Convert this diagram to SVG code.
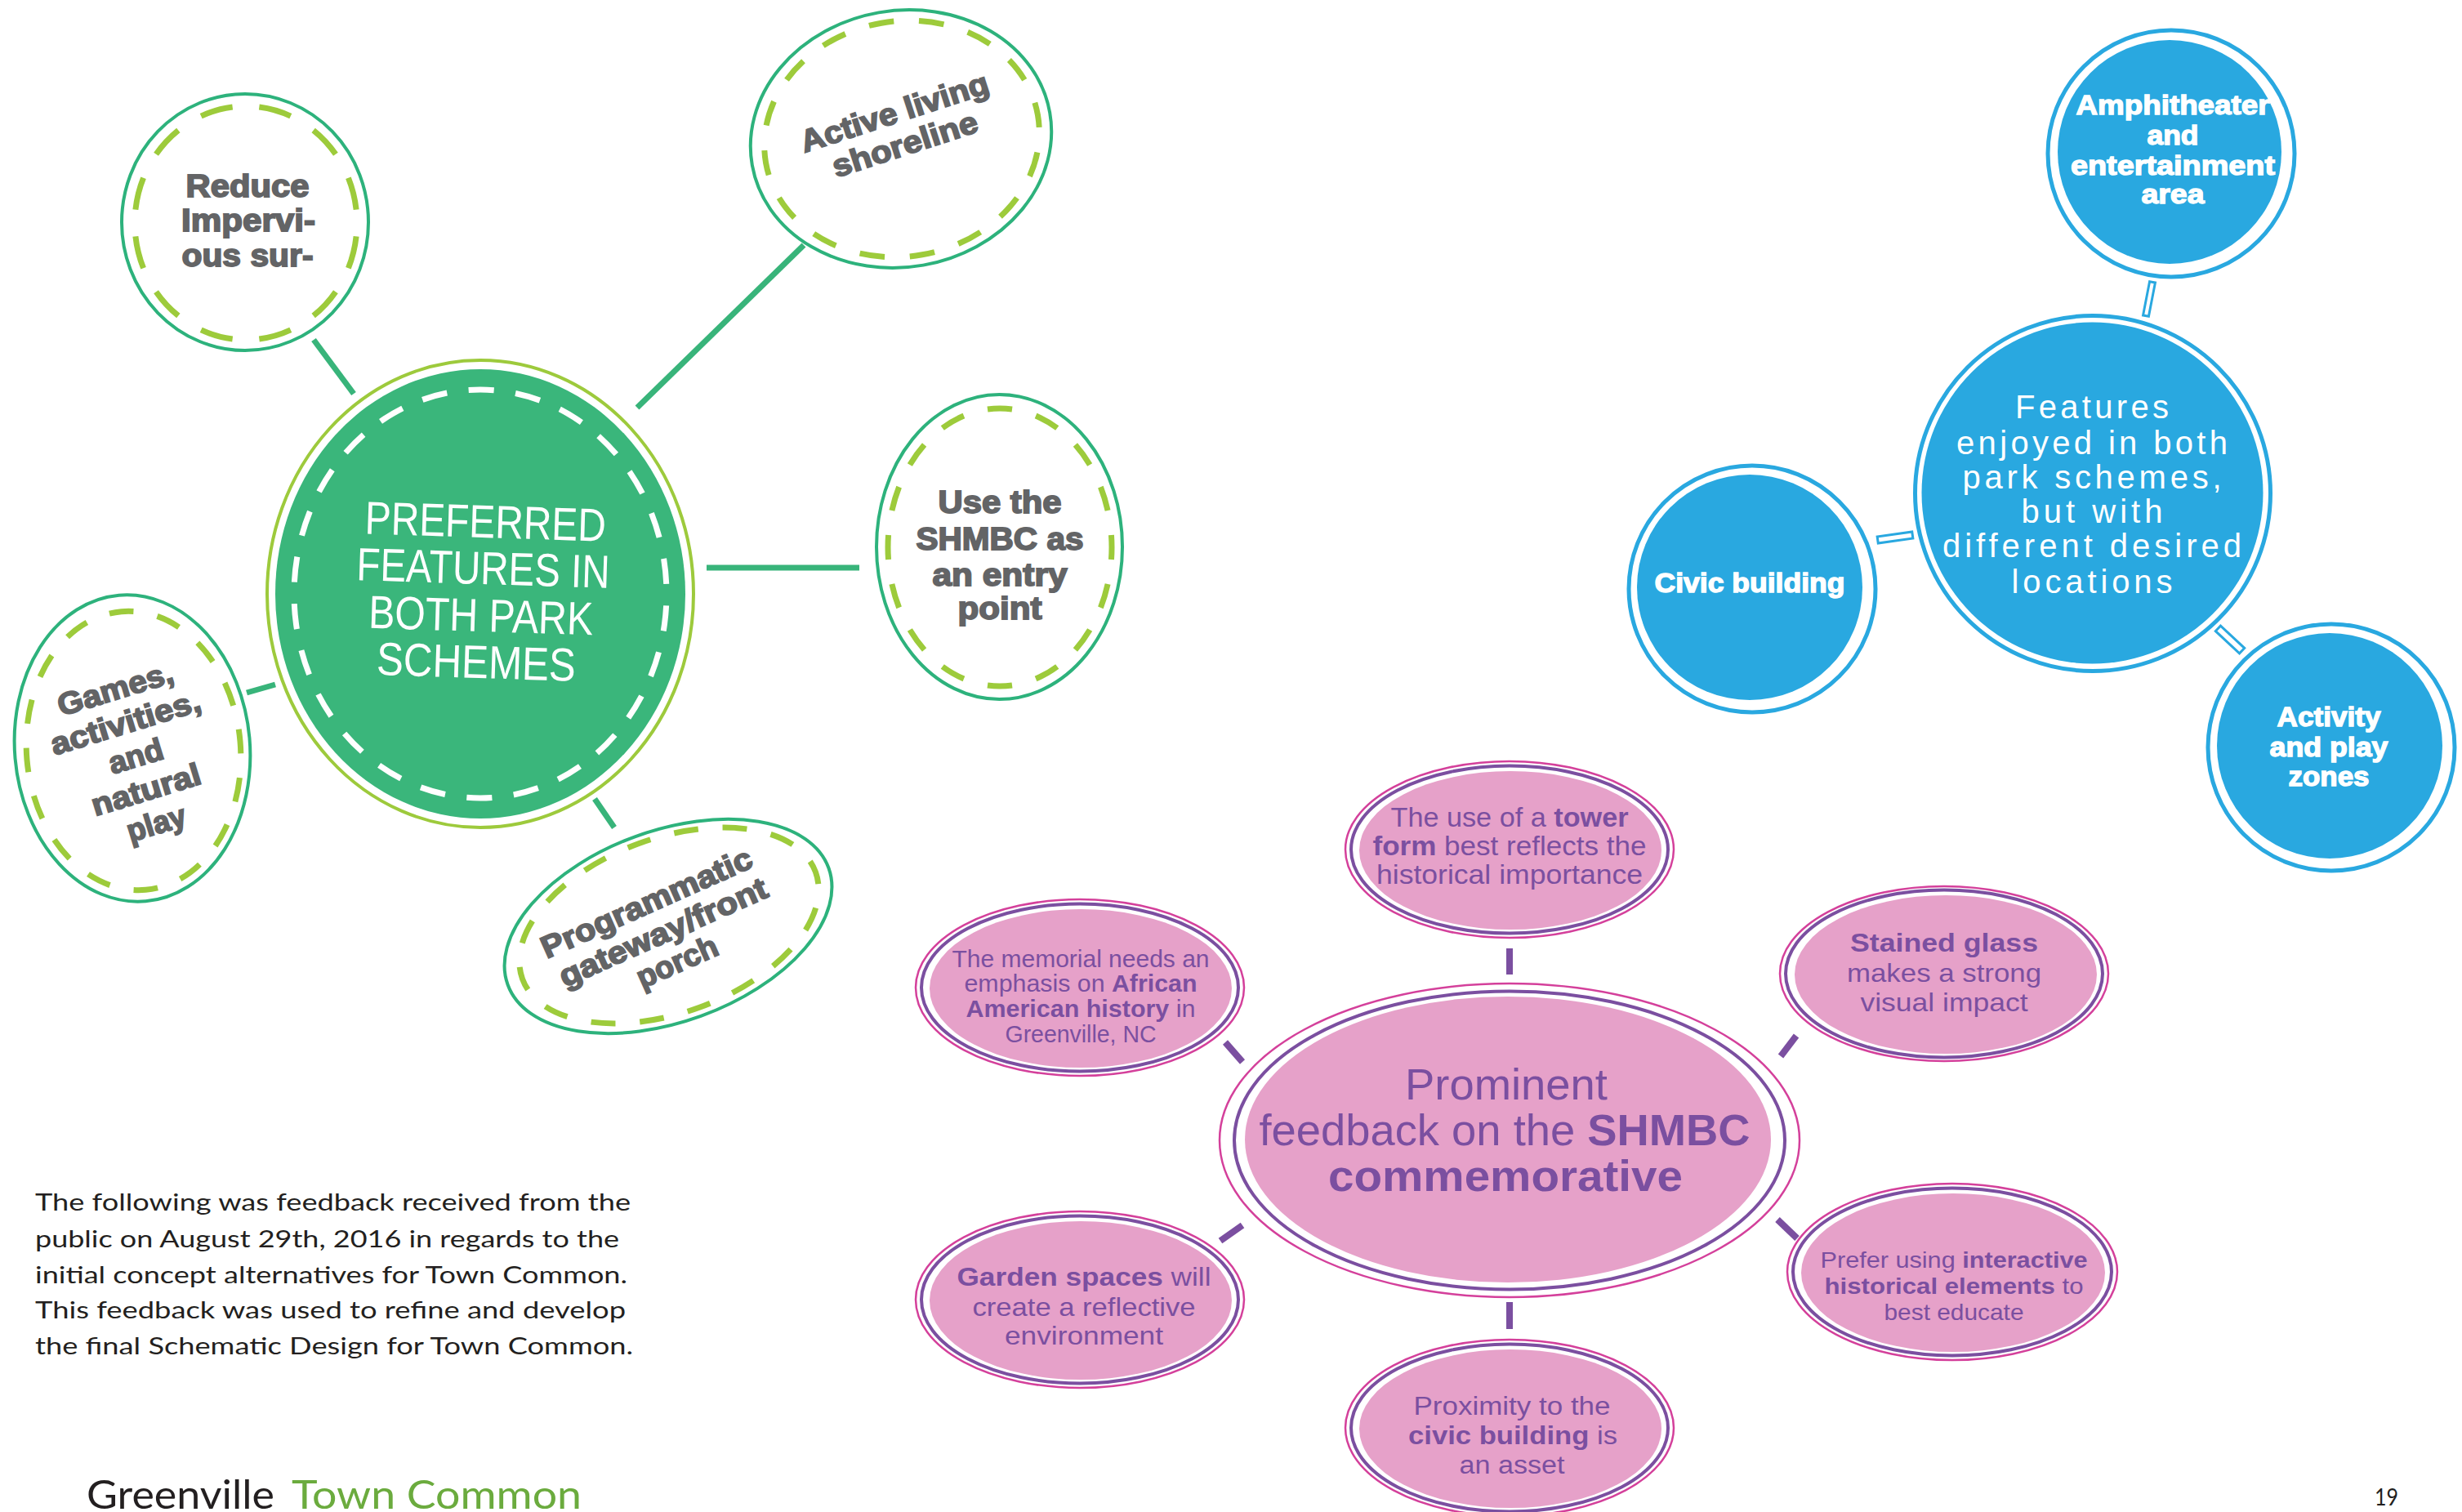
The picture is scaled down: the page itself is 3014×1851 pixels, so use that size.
<svg xmlns="http://www.w3.org/2000/svg" width="3014" height="1851" viewBox="0 0 3014 1851">
  <defs>
    <style>
      .link-g{stroke:#38b47a;stroke-width:7;fill:none}
      .link-p{stroke:#7b4fa0;stroke-width:8;fill:none}
      .link-b{fill:#fff;stroke:#29a8e0;stroke-width:3}
      .sat-out{fill:#fff;stroke:#2db27c;stroke-width:4}
      .sat-dash{fill:none;stroke:#9dcb3b;stroke-width:7}
      .hub-ring{fill:#fff;stroke:#9dca3c;stroke-width:4}
      .hub-fill{fill:#3ab67b}
      .hub-dash{fill:none;stroke:#fff;stroke-width:7}
      .b-ring{fill:#fff;stroke:#29a8e0;stroke-width:5}
      .b-fill{fill:#29a8e0}
      .p-out{fill:#fff;stroke:#d4409b;stroke-width:2.5}
      .p-mid{fill:none;stroke:#7b4fa0;stroke-width:4}
      .p-fill{fill:#e6a1c9}
      text{text-anchor:middle}
      .hub-t{font-family:"Liberation Sans",Arial,sans-serif;font-size:57px;fill:#fff}
      .gs{font-family:"Liberation Sans",Arial,sans-serif;font-weight:700;font-size:38px;fill:#636466;stroke:#636466;stroke-width:1.8}
      .bt{font-family:"Liberation Sans",Arial,sans-serif;font-weight:700;font-size:34px;fill:#fff;stroke:#fff;stroke-width:1.4}
      .ft{font-family:"Liberation Sans",Arial,sans-serif;font-size:40px;fill:#fff}
      .pt{font-family:"Liberation Sans",Arial,sans-serif;fill:#7b4fa0}
      .b{font-weight:700}
      .para{font-family:Lato,"Liberation Sans",sans-serif;font-size:28px;fill:#231f20;text-anchor:start}
      .foot{font-family:Lato,"Liberation Sans",sans-serif;font-size:48px;text-anchor:start}
    </style>
  </defs>

  <rect width="3014" height="1851" fill="#fff"/>

  <!-- connectors -->
  <g id="connectors">
    <line class="link-g" x1="384" y1="416" x2="433" y2="482"/>
    <line class="link-g" x1="984" y1="300" x2="780" y2="499"/>
    <line class="link-g" x1="865" y1="695" x2="1052" y2="695"/>
    <line class="link-g" x1="302" y1="848" x2="337" y2="838"/>
    <line class="link-g" x1="728" y1="978" x2="752" y2="1013"/>

    <rect class="link-b" x="-3.5" y="-21" width="7" height="42" transform="translate(2631,366) rotate(11)"/>
    <rect class="link-b" x="-21.5" y="-4" width="43" height="8" transform="translate(2320,658) rotate(-8)"/>
    <rect class="link-b" x="-20" y="-4.5" width="40" height="9" transform="translate(2730,783) rotate(43)"/>

    <line class="link-p" x1="1848" y1="1161" x2="1848" y2="1193"/>
    <line class="link-p" x1="2199" y1="1268" x2="2180" y2="1293"/>
    <line class="link-p" x1="1500" y1="1276" x2="1521" y2="1300"/>
    <line class="link-p" x1="1521" y1="1500" x2="1494" y2="1519"/>
    <line class="link-p" x1="2176" y1="1493" x2="2200" y2="1516"/>
    <line class="link-p" x1="1848" y1="1594" x2="1848" y2="1627"/>
  </g>

  <!-- green cluster -->
  <g id="hub-preferred">
    <ellipse class="hub-ring" cx="588" cy="727" rx="261" ry="286"/>
    <ellipse class="hub-fill" cx="588" cy="727" rx="251" ry="275"/>
    <ellipse class="hub-dash" cx="588" cy="727" rx="228" ry="250" pathLength="52" stroke-dasharray="1.08 0.92" stroke-dashoffset="1.5"/>
    <g transform="rotate(1.8 588 745)">
      <text class="hub-t" x="591" y="658" textLength="295" lengthAdjust="spacingAndGlyphs">PREFERRED</text>
      <text class="hub-t" x="590" y="715" textLength="310" lengthAdjust="spacingAndGlyphs">FEATURES IN</text>
      <text class="hub-t" x="589" y="773" textLength="275" lengthAdjust="spacingAndGlyphs">BOTH PARK</text>
      <text class="hub-t" x="585" y="830" textLength="244" lengthAdjust="spacingAndGlyphs">SCHEMES</text>
    </g>
  </g>

  <g id="node-reduce">
    <ellipse class="sat-out" cx="300" cy="272" rx="151" ry="157"/>
    <ellipse class="sat-dash" cx="301" cy="273" rx="136" ry="143" pathLength="24" stroke-dasharray="1.1 0.9" stroke-dashoffset="1.55"/>
    <text class="gs" x="303" y="241" font-size="40" textLength="151" lengthAdjust="spacingAndGlyphs">Reduce</text>
    <text class="gs" x="304" y="283" font-size="40" textLength="164" lengthAdjust="spacingAndGlyphs">Impervi-</text>
    <text class="gs" x="303" y="326" font-size="40" textLength="161" lengthAdjust="spacingAndGlyphs">ous sur-</text>
  </g>

  <g id="node-shoreline">
    <ellipse class="sat-out" cx="1103" cy="170" rx="185" ry="157" transform="rotate(-10 1103 170)"/>
    <ellipse class="sat-dash" cx="1104" cy="170" rx="169" ry="144" transform="rotate(-10 1104 170)" pathLength="32" stroke-dasharray="1 1" stroke-dashoffset="0.5"/>
    <g transform="translate(1099,150) rotate(-18)">
      <text class="gs" x="0" y="0" textLength="240" lengthAdjust="spacingAndGlyphs">Active living</text>
      <text class="gs" x="0" y="41" textLength="185" lengthAdjust="spacingAndGlyphs">shoreline</text>
    </g>
  </g>

  <g id="node-entry">
    <ellipse class="sat-out" cx="1223.5" cy="669.5" rx="150.5" ry="186.5"/>
    <ellipse class="sat-dash" cx="1224" cy="670" rx="137" ry="170" pathLength="32" stroke-dasharray="1 1" stroke-dashoffset="0.5"/>
    <text class="gs" x="1224" y="628" font-size="36" textLength="151" lengthAdjust="spacingAndGlyphs">Use the</text>
    <text class="gs" x="1224" y="673" font-size="36" textLength="205" lengthAdjust="spacingAndGlyphs">SHMBC as</text>
    <text class="gs" x="1224" y="717" font-size="36" textLength="165" lengthAdjust="spacingAndGlyphs">an entry</text>
    <text class="gs" x="1224" y="758" font-size="36" textLength="103" lengthAdjust="spacingAndGlyphs">point</text>
  </g>

  <g id="node-games">
    <ellipse class="sat-out" cx="162" cy="916" rx="144" ry="188" transform="rotate(-5 162 916)"/>
    <ellipse class="sat-dash" cx="163.5" cy="919" rx="131" ry="171" transform="rotate(-5 163.5 919)" pathLength="32" stroke-dasharray="1 1" stroke-dashoffset="0.5"/>
    <g transform="translate(170,938) rotate(-17)">
      <text class="gs" x="0" y="-86" textLength="146" lengthAdjust="spacingAndGlyphs">Games,</text>
      <text class="gs" x="0" y="-43" textLength="190" lengthAdjust="spacingAndGlyphs">activities,</text>
      <text class="gs" x="0" y="0" textLength="68" lengthAdjust="spacingAndGlyphs">and</text>
      <text class="gs" x="0" y="43" textLength="138" lengthAdjust="spacingAndGlyphs">natural</text>
      <text class="gs" x="0" y="86" textLength="74" lengthAdjust="spacingAndGlyphs">play</text>
    </g>
  </g>

  <g id="node-gateway">
    <ellipse class="sat-out" cx="818" cy="1134" rx="209" ry="117" transform="rotate(-20 818 1134)"/>
    <ellipse class="sat-dash" cx="819" cy="1133" rx="191" ry="107" transform="rotate(-20 819 1133)" pathLength="32" stroke-dasharray="1 1" stroke-dashoffset="0.5"/>
    <g transform="translate(817,1153) rotate(-24)">
      <text class="gs" x="-4" y="-41" textLength="279" lengthAdjust="spacingAndGlyphs">Programmatic</text>
      <text class="gs" x="0" y="0" textLength="275" lengthAdjust="spacingAndGlyphs">gateway/front</text>
      <text class="gs" x="1" y="40" textLength="105" lengthAdjust="spacingAndGlyphs">porch</text>
    </g>
  </g>

  <!-- blue cluster -->
  <g id="node-features">
    <circle class="b-ring" cx="2562" cy="604" r="217.5"/>
    <circle class="b-fill" cx="2561.5" cy="603.5" r="209"/>
    <text class="ft" x="2561" y="512" textLength="188">Features</text>
    <text class="ft" x="2561" y="555.5" textLength="332">enjoyed in both</text>
    <text class="ft" x="2561" y="597.5" textLength="317">park schemes,</text>
    <text class="ft" x="2561" y="640" textLength="173">but with</text>
    <text class="ft" x="2561" y="682" textLength="366">different desired</text>
    <text class="ft" x="2561" y="725.5" textLength="197">locations</text>
  </g>

  <g id="node-amphitheater">
    <circle class="b-ring" cx="2658" cy="188" r="151"/>
    <circle class="b-fill" cx="2656" cy="186" r="137"/>
    <text class="bt" x="2660" y="140" textLength="237" lengthAdjust="spacingAndGlyphs">Amphitheater</text>
    <text class="bt" x="2660" y="176.5" textLength="63" lengthAdjust="spacingAndGlyphs">and</text>
    <text class="bt" x="2660" y="214" textLength="250" lengthAdjust="spacingAndGlyphs">entertainment</text>
    <text class="bt" x="2660" y="249" textLength="77" lengthAdjust="spacingAndGlyphs">area</text>
  </g>

  <g id="node-civic">
    <circle class="b-ring" cx="2145" cy="721" r="151"/>
    <circle class="b-fill" cx="2142" cy="719" r="138"/>
    <text class="bt" x="2142" y="725" font-size="35" textLength="233" lengthAdjust="spacingAndGlyphs">Civic building</text>
  </g>

  <g id="node-activity">
    <circle class="b-ring" cx="2854" cy="915" r="151"/>
    <circle class="b-fill" cx="2852" cy="913" r="138"/>
    <text class="bt" x="2851" y="889" textLength="127" lengthAdjust="spacingAndGlyphs">Activity</text>
    <text class="bt" x="2851" y="926" textLength="145" lengthAdjust="spacingAndGlyphs">and play</text>
    <text class="bt" x="2851" y="962" textLength="99" lengthAdjust="spacingAndGlyphs">zones</text>
  </g>

  <!-- pink cluster -->
  <g id="hub-feedback">
    <ellipse class="p-out" cx="1848" cy="1396" rx="355" ry="192" stroke-width="3"/>
    <ellipse class="p-mid" cx="1848" cy="1396" rx="337" ry="182.5" stroke-width="8"/>
    <ellipse class="p-fill" cx="1846" cy="1395" rx="322" ry="175"/>
    <text class="pt" x="1844" y="1346" font-size="53" textLength="248" lengthAdjust="spacingAndGlyphs">Prominent</text>
    <text class="pt" x="1842" y="1402" font-size="53" textLength="601" lengthAdjust="spacingAndGlyphs">feedback on the <tspan class="b">SHMBC</tspan></text>
    <text class="pt b" x="1843" y="1458" font-size="53" textLength="434" lengthAdjust="spacingAndGlyphs">commemorative</text>
  </g>

  <g id="node-tower">
    <ellipse class="p-out" cx="1848" cy="1040" rx="201" ry="108"/>
    <ellipse class="p-mid" cx="1848" cy="1040" rx="194" ry="102.5"/>
    <ellipse class="p-fill" cx="1849" cy="1041" rx="185" ry="97"/>
    <text class="pt" x="1848" y="1012" font-size="33" textLength="291" lengthAdjust="spacingAndGlyphs">The use of a <tspan class="b">tower</tspan></text>
    <text class="pt" x="1848" y="1047" font-size="33" textLength="335" lengthAdjust="spacingAndGlyphs"><tspan class="b">form</tspan> best reflects the</text>
    <text class="pt" x="1848" y="1082" font-size="33" textLength="326" lengthAdjust="spacingAndGlyphs">historical importance</text>
  </g>

  <g id="node-glass">
    <ellipse class="p-out" cx="2380" cy="1192" rx="201" ry="107"/>
    <ellipse class="p-mid" cx="2380" cy="1192" rx="194" ry="102.5"/>
    <ellipse class="p-fill" cx="2382" cy="1193" rx="185" ry="97"/>
    <text class="pt b" x="2380" y="1165" font-size="32" textLength="230" lengthAdjust="spacingAndGlyphs">Stained glass</text>
    <text class="pt" x="2380" y="1202" font-size="32" textLength="238" lengthAdjust="spacingAndGlyphs">makes a strong</text>
    <text class="pt" x="2380" y="1238" font-size="32" textLength="205" lengthAdjust="spacingAndGlyphs">visual impact</text>
  </g>

  <g id="node-memorial">
    <ellipse class="p-out" cx="1322" cy="1209" rx="201" ry="108"/>
    <ellipse class="p-mid" cx="1322" cy="1209" rx="194" ry="102.5"/>
    <ellipse class="p-fill" cx="1323" cy="1210" rx="185" ry="97"/>
    <text class="pt" x="1323" y="1184" font-size="29" textLength="315" lengthAdjust="spacingAndGlyphs">The memorial needs an</text>
    <text class="pt" x="1323" y="1214" font-size="29" textLength="285" lengthAdjust="spacingAndGlyphs">emphasis on <tspan class="b">African</tspan></text>
    <text class="pt" x="1323" y="1245" font-size="29" textLength="281" lengthAdjust="spacingAndGlyphs"><tspan class="b">American history</tspan> in</text>
    <text class="pt" x="1323" y="1276" font-size="29" textLength="185" lengthAdjust="spacingAndGlyphs">Greenville, NC</text>
  </g>

  <g id="node-garden">
    <ellipse class="p-out" cx="1322" cy="1591" rx="201" ry="108"/>
    <ellipse class="p-mid" cx="1322" cy="1591" rx="194" ry="102.5"/>
    <ellipse class="p-fill" cx="1323" cy="1592" rx="185" ry="97"/>
    <text class="pt" x="1327" y="1574" font-size="32" textLength="311" lengthAdjust="spacingAndGlyphs"><tspan class="b">Garden spaces</tspan> will</text>
    <text class="pt" x="1327" y="1611" font-size="32" textLength="273" lengthAdjust="spacingAndGlyphs">create a reflective</text>
    <text class="pt" x="1327" y="1646" font-size="32" textLength="194" lengthAdjust="spacingAndGlyphs">environment</text>
  </g>

  <g id="node-interactive">
    <ellipse class="p-out" cx="2390" cy="1557" rx="202" ry="108"/>
    <ellipse class="p-mid" cx="2390" cy="1557" rx="195" ry="102.5"/>
    <ellipse class="p-fill" cx="2391" cy="1558" rx="186" ry="97"/>
    <text class="pt" x="2392" y="1552" font-size="28" textLength="327" lengthAdjust="spacingAndGlyphs">Prefer using <tspan class="b">interactive</tspan></text>
    <text class="pt" x="2392" y="1584" font-size="28" textLength="317" lengthAdjust="spacingAndGlyphs"><tspan class="b">historical elements</tspan> to</text>
    <text class="pt" x="2392" y="1616" font-size="28" textLength="171" lengthAdjust="spacingAndGlyphs">best educate</text>
  </g>

  <g id="node-proximity">
    <ellipse class="p-out" cx="1848" cy="1748" rx="201" ry="108"/>
    <ellipse class="p-mid" cx="1848" cy="1748" rx="194" ry="102.5"/>
    <ellipse class="p-fill" cx="1849" cy="1749" rx="185" ry="97"/>
    <text class="pt" x="1851" y="1732" font-size="31" textLength="241" lengthAdjust="spacingAndGlyphs">Proximity to the</text>
    <text class="pt" x="1852" y="1768" font-size="31" textLength="256" lengthAdjust="spacingAndGlyphs"><tspan class="b">civic building</tspan> is</text>
    <text class="pt" x="1851" y="1804" font-size="31" textLength="129" lengthAdjust="spacingAndGlyphs">an asset</text>
  </g>

  <!-- page text -->
  <g id="intro">
    <text class="para" x="43" y="1482" textLength="729" lengthAdjust="spacingAndGlyphs">The following was feedback received from the</text>
    <text class="para" x="43" y="1527" textLength="715" lengthAdjust="spacingAndGlyphs">public on August 29th, 2016 in regards to the</text>
    <text class="para" x="43" y="1571" textLength="725" lengthAdjust="spacingAndGlyphs">initial concept alternatives for Town Common.</text>
    <text class="para" x="43" y="1614" textLength="723" lengthAdjust="spacingAndGlyphs">This feedback was used to refine and develop</text>
    <text class="para" x="43" y="1658" textLength="732" lengthAdjust="spacingAndGlyphs">the final Schematic Design for Town Common.</text>
  </g>
  <g id="footer">
    <text class="foot" x="106" y="1847" fill="#231f20" textLength="230" lengthAdjust="spacingAndGlyphs">Greenville</text>
    <text class="foot" x="357" y="1847" fill="#6bab3e" textLength="355" lengthAdjust="spacingAndGlyphs">Town Common</text>
    <text class="para" x="2907" y="1843" font-size="27" fill="#444" textLength="29" lengthAdjust="spacingAndGlyphs">19</text>
  </g>
</svg>
